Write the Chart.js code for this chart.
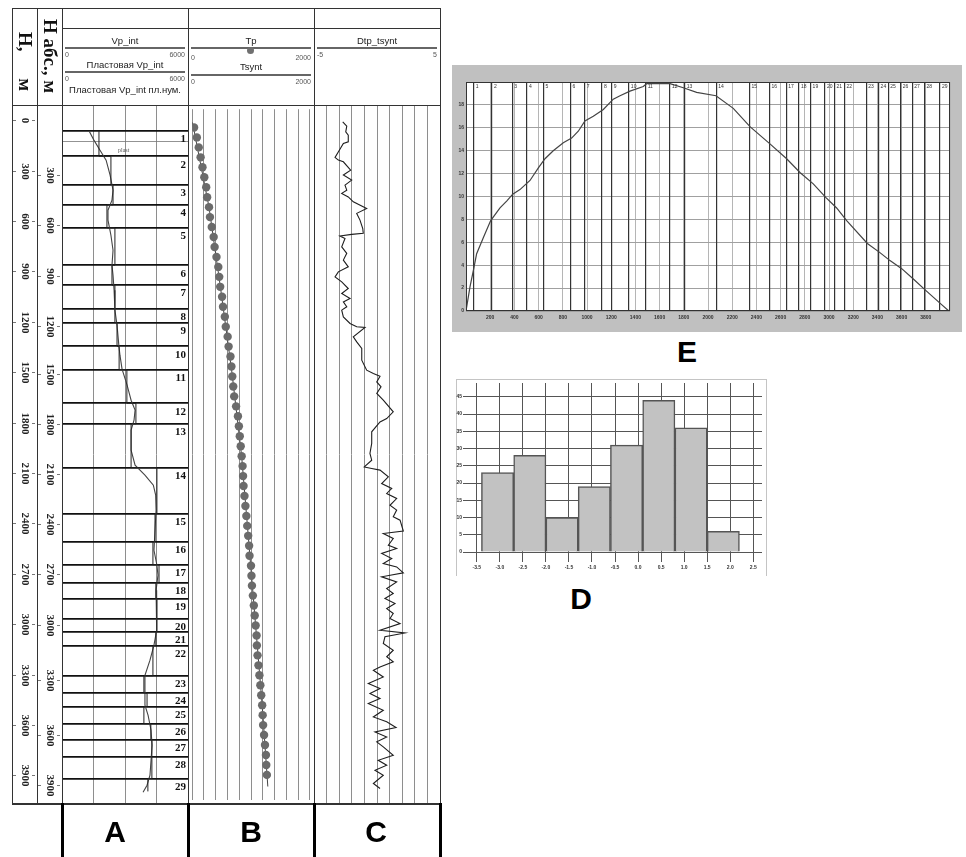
<!DOCTYPE html>
<html lang="ru">
<head>
<meta charset="utf-8">
<title>Vp_int / Tp / Dtp_tsynt</title>
<script src="https://cdn.jsdelivr.net/npm/chart.js@4.4.1/dist/chart.umd.min.js"></script>
<style>
html, body { margin: 0; padding: 0; background: #fff; }
#page { position: relative; width: 966px; height: 857px; overflow: hidden; font-family: "Liberation Sans", Arial, sans-serif; color: #222; }
canvas { position: absolute; }
.ln { position: absolute; background: #333; }
.bk { position: absolute; background: #000; width: 3px; height: 54px; top: 803px; }
.lg { position: absolute; background: #666; height: 2px; }
.t { position: absolute; white-space: nowrap; line-height: 1; }
.h { font-size: 9.5px; text-align: center; }
.n { font-size: 7px; color: #555; }
.vt { position: absolute; display: flex; align-items: center; justify-content: center; writing-mode: vertical-rl;
      font: bold 19px "Liberation Serif", "Times New Roman", serif; white-space: nowrap; color: #111; }
.big { position: absolute; font: bold 30px "Liberation Sans", Arial, sans-serif; line-height: 30px; transform: translateX(-50%); color: #000; }
</style>
</head>
<body>
<div id="page">
  <div style="position:absolute;left:452px;top:65px;width:510px;height:267px;background:#c0c0c0"></div>
  <div style="position:absolute;left:456px;top:379px;width:309px;height:196px;border:1px solid #c4c4c4;border-bottom:none"></div>

  <canvas id="depth" width="50" height="699" style="left:12px;top:105px"></canvas>
  <canvas id="trackA" width="126" height="699" style="left:62px;top:105px"></canvas>
  <canvas id="trackB" width="126" height="699" style="left:188px;top:105px"></canvas>
  <canvas id="trackC" width="126" height="699" style="left:314px;top:105px"></canvas>
  <canvas id="chartE" width="510" height="266" style="left:452px;top:65px"></canvas>
  <canvas id="chartD" width="310" height="196" style="left:456px;top:379px"></canvas>

  <!-- log frame -->
  <div class="ln" style="left:12px;top:8px;width:429px;height:1px"></div>
  <div class="ln" style="left:62px;top:28px;width:379px;height:1px"></div>
  <div class="ln" style="left:12px;top:105px;width:429px;height:1px"></div>
  <div class="ln" style="left:12px;top:803px;width:429px;height:2px"></div>
  <div class="ln" style="left:12px;top:8px;width:1px;height:796px"></div>
  <div class="ln" style="left:37px;top:8px;width:1px;height:796px"></div>
  <div class="ln" style="left:62px;top:8px;width:1px;height:796px"></div>
  <div class="ln" style="left:188px;top:8px;width:1px;height:796px"></div>
  <div class="ln" style="left:314px;top:8px;width:1px;height:796px"></div>
  <div class="ln" style="left:440px;top:8px;width:1px;height:796px"></div>
  <div class="bk" style="left:61px"></div>
  <div class="bk" style="left:187px"></div>
  <div class="bk" style="left:313px"></div>
  <div class="bk" style="left:439px"></div>

  <div class="vt" style="left:12px;width:25px;top:18px;height:87px;word-spacing:22px">Н, м</div>
  <div class="vt" style="left:37px;width:25px;top:8px;height:97px">Н абс., м</div>

  <!-- track A header -->
  <div class="t h" style="left:62px;width:126px;top:36px">Vp_int</div>
  <div class="lg" style="left:65px;top:47px;width:120px"></div>
  <div class="t n" style="left:65px;top:51px">0</div>
  <div class="t n" style="left:65px;width:120px;top:51px;text-align:right">6000</div>
  <div class="t h" style="left:62px;width:126px;top:60px">Пластовая Vp_int</div>
  <div class="lg" style="left:65px;top:71px;width:120px"></div>
  <div class="t n" style="left:65px;top:74.5px">0</div>
  <div class="t n" style="left:65px;width:120px;top:74.5px;text-align:right">6000</div>
  <div class="t h" style="left:62px;width:126px;top:85px">Пластовая Vp_int пл.нум.</div>
  <div class="t" style="left:118px;top:147px;font:6px 'Liberation Serif',serif;color:#555">plast</div>

  <!-- track B header -->
  <div class="t h" style="left:188px;width:126px;top:36px">Tp</div>
  <div class="lg" style="left:191px;top:47px;width:120px"></div>
  <div style="position:absolute;left:247px;top:47px;width:7px;height:7px;border-radius:50%;background:#707070"></div>
  <div class="t n" style="left:191px;top:53.5px">0</div>
  <div class="t n" style="left:191px;width:120px;top:53.5px;text-align:right">2000</div>
  <div class="t h" style="left:188px;width:126px;top:62px">Tsynt</div>
  <div class="lg" style="left:191px;top:74px;width:120px"></div>
  <div class="t n" style="left:191px;top:77.5px">0</div>
  <div class="t n" style="left:191px;width:120px;top:77.5px;text-align:right">2000</div>

  <!-- track C header -->
  <div class="t h" style="left:314px;width:126px;top:36px">Dtp_tsynt</div>
  <div class="lg" style="left:317px;top:47px;width:120px"></div>
  <div class="t n" style="left:317px;top:51px">-5</div>
  <div class="t n" style="left:317px;width:120px;top:51px;text-align:right">5</div>

  <div class="big" style="left:115px;top:817px">A</div>
  <div class="big" style="left:251px;top:817px">B</div>
  <div class="big" style="left:376px;top:817px">C</div>
  <div class="big" style="left:687px;top:337px">E</div>
  <div class="big" style="left:581px;top:584px">D</div>
</div>

<script>
// depth range shared by all log tracks (m)
const DEPTH_MIN = -90, DEPTH_MAX = 4070;

// depth scale labels
const hTicks = [0, 300, 600, 900, 1200, 1500, 1800, 2100, 2400, 2700, 3000, 3300, 3600, 3900];
const absTickDepth = [327, 625, 929, 1226, 1512, 1810, 2107, 2405, 2702, 3006, 3333, 3661, 3958];
const absLabels = ['300', '600', '900', '1200', '1500', '1800', '2100', '2400', '2700', '3000', '3300', '3600', '3900'];

// layers (tops, m)
const layerTops = [65, 215, 383, 504, 641, 864, 982, 1123, 1205, 1346, 1485, 1685, 1807, 2068, 2343,
  2509, 2646, 2752, 2848, 2966, 3046, 3128, 3307, 3410, 3490, 3592, 3688, 3790, 3918];
const layerNames = ['1', '2', '3', '4', '5', '6', '7', '8', '9', '10', '11', '12', '13', '14', '15',
  '16', '17', '18', '19', '20', '21', '22', '23', '24', '25', '26', '27', '28', '29'];
const plastMarks = [129];

// track A: Vp_int and layer Vp
const plastVp = [1760, 2330, 2430, 2140, 2520, 2380, 2520, 2520, 2620, 2720, 3090, 3520, 3290, 4520, 4430,
  4330, 4620, 4470, 4520, 4520, 4470, 4330, 3900, 4050, 3900, 4230, 4280, 4280, 4090];
const plastBottom = 3995;
const vpDepth = [65, 119, 179, 238, 327, 417, 476, 536, 595, 685, 774, 863, 923, 1012, 1131, 1220, 1345, 1399,
  1482, 1577, 1667, 1726, 1786, 1845, 1964, 2054, 2113, 2173, 2232, 2321, 2440, 2560, 2649, 2708, 2798, 2857,
  2946, 3036, 3125, 3214, 3304, 3393, 3482, 3542, 3631, 3720, 3810, 3899, 3958, 4000];
const vpVal = [1290, 1520, 1810, 2100, 2290, 2430, 2380, 2190, 2190, 2330, 2430, 2380, 2430, 2480, 2520, 2620,
  2710, 2760, 2860, 3100, 3290, 3480, 3430, 3290, 3290, 3480, 3950, 4350, 4460, 4480, 4430, 4380, 4520, 4570,
  4480, 4520, 4520, 4480, 4380, 4190, 3950, 3950, 3950, 4100, 4240, 4290, 4240, 4190, 4050, 3860];

// track B: Tp points and Tsynt line
const tpDepth = [20, 80, 140, 200, 260, 320, 380, 440, 500, 560, 620, 680, 740, 800, 860, 920, 980, 1040, 1100,
  1160, 1220, 1280, 1340, 1400, 1460, 1520, 1580, 1640, 1700, 1760, 1820, 1880, 1940, 2000, 2060, 2120, 2180,
  2240, 2300, 2360, 2420, 2480, 2540, 2600, 2660, 2720, 2780, 2840, 2900, 2960, 3020, 3080, 3140, 3200, 3260,
  3320, 3380, 3440, 3500, 3560, 3620, 3680, 3740, 3800, 3860, 3920];
const tpVal = [32, 79, 111, 143, 175, 206, 238, 254, 286, 302, 333, 365, 381, 413, 444, 460, 476, 508, 524, 555,
  571, 603, 619, 651, 667, 682, 698, 714, 746, 778, 794, 809, 825, 841, 857, 865, 873, 889, 905, 921,
  936, 952, 968, 975, 1000, 1008, 1016, 1032, 1048, 1063, 1079, 1095, 1100, 1111, 1127, 1143, 1159, 1174, 1190, 1198,
  1206, 1222, 1238, 1254, 1260, 1270];
const tsyntDepth = [-10, 500, 1000, 1500, 2000, 2500, 3000, 3500, 3990];
const tsyntVal = [5, 286, 487, 677, 841, 958, 1074, 1190, 1286];

// track C: Dtp_tsynt
const dtpDepth = [10, 36, 70, 89, 129, 139, 179, 222, 238, 248, 298, 327, 357, 387, 417, 436, 457, 486, 526, 555,
  595, 645, 674, 680, 690, 704, 754, 793, 833, 873, 903, 933, 963, 1002, 1032, 1061, 1082, 1111, 1131, 1171,
  1210, 1230, 1234, 1290, 1320, 1359, 1429, 1488, 1508, 1524, 1558, 1587, 1627, 1667, 1736, 1776, 1796, 1855,
  1924, 1984, 2024, 2064, 2073, 2083, 2123, 2163, 2192, 2222, 2252, 2292, 2321, 2361, 2381, 2446, 2460, 2490,
  2530, 2549, 2579, 2609, 2639, 2659, 2694, 2718, 2748, 2788, 2817, 2847, 2877, 2907, 2936, 2966, 2996, 3036,
  3052, 3075, 3115, 3155, 3194, 3224, 3254, 3274, 3314, 3353, 3383, 3413, 3442, 3472, 3512, 3552, 3581, 3615,
  3641, 3671, 3700, 3730, 3780, 3810, 3839, 3869, 3899, 3948, 3978];
const dtpVal = [-2.72, -2.40, -2.48, -2.28, -2.28, -2.67, -2.99, -3.33, -3.07, -2.67, -2.09, -2.67, -2.01, -2.54,
  -2.40, -2.80, -2.28, -1.88, -0.82, -1.61, -1.35, -1.13, -1.09, -2.01, -2.94, -2.54, -2.80, -2.40, -2.67, -2.28,
  -3.07, -3.33, -2.80, -2.28, -2.80, -2.14, -2.67, -2.40, -2.80, -2.67, -2.14, -1.61, -0.95, -1.88, -1.61, -1.21,
  -1.21, -0.82, -0.29, 0.24, -0.02, 0.32, -0.02, 0.50, 1.29, 0.77, 0.24, -0.42, -0.42, -0.56, -0.42, -1.01, -0.42,
  0.24, 0.90, 0.37, 1.17, 0.77, 1.56, 1.03, 1.56, 1.29, 1.83, 2.09, 0.50, 1.29, 0.90, 1.56, 0.37, 1.17, 0.50, 1.56,
  2.09, 0.37, 1.56, 0.77, 1.29, 0.63, 1.43, 0.77, 1.29, 1.03, 1.83, 0.24, 2.22, 0.63, 0.50, 1.29, 0.77, 1.29, 0.24,
  -0.29, 0.50, -0.69, 0.24, -0.56, 0.24, -0.69, 0.50, -0.29, 0.77, 1.51, -0.16, 0.77, -0.02, 0.50, 1.29, 0.10,
  0.77, -0.16, 0.50, -0.29, 0.24];

// chart E
const eDepth = [0, 33, 66, 88, 143, 204, 281, 336, 386, 446, 529, 598, 653, 721, 804, 873, 928, 983, 1052, 1135,
  1217, 1273, 1355, 1465, 1493, 1686, 1796, 1906, 2066, 2209, 2347, 2512, 2650, 2760, 2870, 2975, 3063, 3146,
  3317, 3421, 3504, 3601, 3697, 3799, 3926, 3986];
const eVal = [0, 2.1, 3.8, 5.0, 6.4, 7.9, 9.0, 9.6, 10.2, 10.6, 11.4, 12.5, 13.3, 14.0, 14.7, 15.1, 15.7, 16.6,
  17.0, 17.6, 18.5, 18.8, 19.2, 19.6, 19.85, 19.85, 19.5, 19.1, 18.8, 17.7, 16.1, 14.6, 13.3, 12.1, 11.1, 9.9,
  9.0, 7.9, 5.9, 5.1, 4.4, 3.7, 2.8, 1.8, 0.6, 0.05];
const eXTicks = [0, 200, 400, 600, 800, 1000, 1200, 1400, 1600, 1800, 2000, 2200, 2400, 2600, 2800, 3000, 3200,
  3400, 3600, 3800, 4000];
const eXLabels = ['', '200', '400', '600', '800', '1000', '1200', '1400', '1600', '1800', '2000', '2200', '2400',
  '2600', '2800', '3000', '3200', '3400', '3600', '3800', ''];
const eYTicks = [0, 2, 4, 6, 8, 10, 12, 14, 16, 18, 20];
const eYLabels = ['0', '2', '4', '6', '8', '10', '12', '14', '16', '18', ''];

// chart D (histogram)
const dBinCenters = [-3.05, -2.35, -1.65, -0.95, -0.25, 0.45, 1.15, 1.85];
const dCounts = [23, 28, 10, 19, 31, 44, 36, 6];
const dXTicks = [-3.5, -3.0, -2.5, -2.0, -1.5, -1.0, -0.5, 0.0, 0.5, 1.0, 1.5, 2.0, 2.5];
const dXLabels = ['-3.5', '-3.0', '-2.5', '-2.0', '-1.5', '-1.0', '-0.5', '0.0', '0.5', '1.0', '1.5', '2.0', '2.5'];
const dYTicks = [0, 5, 10, 15, 20, 25, 30, 35, 40, 45];
const dYLabels = ['0', '5', '10', '15', '20', '25', '30', '35', '40', '45'];

const tickSet = (arr) => (s) => { s.ticks = arr.map(v => ({value: v})); };
const pairs = (ys, xs) => ys.map((y, i) => ({x: xs[i], y: y}));
const tiny = {size: 5, family: '"Liberation Sans", Arial, sans-serif', weight: 'bold'};

const base = {
    responsive: false,
    animation: false,
    devicePixelRatio: 1,
    events: [],
    layout: {padding: 0},
    plugins: {legend: {display: false}, tooltip: {enabled: false}},
    elements: {point: {radius: 0}, line: {borderWidth: 1}}
};

const depthY = (extra) => Object.assign({
    type: 'linear', reverse: true, min: DEPTH_MIN, max: DEPTH_MAX, display: false
}, extra || {});

const trackX = (min, max, grid) => ({
    type: 'linear', min: min, max: max,
    afterBuildTicks: tickSet(grid),
    ticks: {display: false},
    grid: {color: '#8e8e8e', lineWidth: 1, drawTicks: false},
    border: {display: false}
});

// rotated depth labels with the little dashes
const depthAxisPlugin = {
    id: 'depthAxis',
    afterDraw(chart) {
        const {ctx} = chart;
        const y = chart.scales.y;
        ctx.save();
        ctx.font = 'bold 11px "Liberation Serif", serif';
        ctx.fillStyle = '#222';
        ctx.strokeStyle = '#777';
        ctx.lineWidth = 1;
        const column = (vals, labels, x0) => {
            vals.forEach((v, i) => {
                const py = Math.round(y.getPixelForValue(v)) + 0.5;
                ctx.beginPath();
                ctx.moveTo(x0 + 1, py); ctx.lineTo(x0 + 4, py);
                ctx.moveTo(x0 + 20, py); ctx.lineTo(x0 + 23, py);
                ctx.stroke();
                ctx.save();
                ctx.translate(x0 + 12.5, py);
                ctx.rotate(Math.PI / 2);
                ctx.textAlign = 'center';
                ctx.textBaseline = 'middle';
                ctx.fillText(labels[i], 0, 0);
                ctx.restore();
            });
        };
        column(hTicks, hTicks.map(String), 0);
        column(absTickDepth, absLabels, 25);
        ctx.restore();
    }
};

const layerLabelPlugin = {
    id: 'layerLabels',
    afterDraw(chart) {
        const {ctx, chartArea} = chart;
        const y = chart.scales.y;
        ctx.save();
        ctx.font = 'bold 11px "Liberation Serif", serif';
        ctx.fillStyle = '#111';
        ctx.textAlign = 'right';
        ctx.textBaseline = 'top';
        layerTops.forEach((d, i) => ctx.fillText(layerNames[i], chartArea.right - 2, y.getPixelForValue(d) + 3));
        ctx.restore();
    }
};

new Chart(document.getElementById('depth'), {
    type: 'line',
    data: {datasets: []},
    options: Object.assign({}, base, {
        scales: {x: {type: 'linear', display: false, min: 0, max: 1}, y: depthY()}
    }),
    plugins: [depthAxisPlugin]
});

// track A
const plastPoints = pairs(layerTops, plastVp).concat([{x: plastVp[plastVp.length - 1], y: plastBottom}]);
new Chart(document.getElementById('trackA'), {
    type: 'line',
    data: {
        datasets: [
            {label: 'Пластовая Vp_int', data: plastPoints, borderColor: '#222', stepped: 'after'},
            {label: 'Vp_int', data: pairs(vpDepth, vpVal), borderColor: '#444', borderWidth: 1.1}
        ]
    },
    options: Object.assign({}, base, {
        scales: {
            x: trackX(0, 6000, [0, 1500, 3000, 4500, 6000]),
            y: depthY({
                display: true,
                position: 'right',
                afterBuildTicks: tickSet(layerTops.concat(plastMarks)),
                ticks: {display: false, autoSkip: false},
                grid: {
                    color: (c) => (c.tick && plastMarks.includes(c.tick.value)) ? '#777' : '#111',
                    lineWidth: (c) => (c.tick && plastMarks.includes(c.tick.value)) ? 0.8 : 1.8,
                    drawTicks: false
                },
                border: {display: false}
            })
        }
    }),
    plugins: [layerLabelPlugin]
});

// track B
new Chart(document.getElementById('trackB'), {
    type: 'line',
    data: {
        datasets: [
            {label: 'Tp', data: pairs(tpDepth, tpVal), showLine: false, pointRadius: 4.2,
             pointBackgroundColor: '#6b6b6b', pointBorderWidth: 0},
            {label: 'Tsynt', data: pairs(tsyntDepth, tsyntVal), borderColor: '#444'}
        ]
    },
    options: Object.assign({}, base, {
        scales: {
            x: trackX(0, 2000, [0, 200, 400, 600, 800, 1000, 1200, 1400, 1600, 1800, 2000]),
            y: depthY()
        }
    })
});

// track C
new Chart(document.getElementById('trackC'), {
    type: 'line',
    data: {
        datasets: [{label: 'Dtp_tsynt', data: pairs(dtpDepth, dtpVal), borderColor: '#1e1e1e', borderWidth: 1.1}]
    },
    options: Object.assign({}, base, {
        scales: {
            x: trackX(-5, 5, [-5, -4, -3, -2, -1, 0, 1, 2, 3, 4, 5]),
            y: depthY()
        }
    })
});

// chart E
const ePanelPlugin = {
    id: 'ePanel',
    beforeDraw(chart) {
        const {ctx, chartArea: a} = chart;
        ctx.save();
        ctx.fillStyle = '#fff';
        ctx.fillRect(a.left, a.top, a.width, a.height);
        ctx.restore();
    },
    afterDraw(chart) {
        const {ctx, chartArea: a} = chart;
        const xl = chart.scales.xl;
        ctx.save();
        ctx.strokeStyle = '#333';
        ctx.lineWidth = 1;
        ctx.strokeRect(Math.round(a.left) + 0.5, Math.round(a.top) + 0.5, Math.round(a.width) - 1, Math.round(a.height) - 1);
        ctx.font = '5px "Liberation Sans", Arial, sans-serif';
        ctx.fillStyle = '#333';
        ctx.textAlign = 'left';
        ctx.textBaseline = 'top';
        layerTops.forEach((d, i) => ctx.fillText(layerNames[i], xl.getPixelForValue(d) + 2, a.top + 2));
        ctx.restore();
    }
};

new Chart(document.getElementById('chartE'), {
    type: 'line',
    data: {
        datasets: [{label: 'E', data: pairs(eVal, eDepth), borderColor: '#444', borderWidth: 1.2}]
    },
    options: Object.assign({}, base, {
        layout: {padding: {left: 0, top: 17, right: 12, bottom: 0}},
        scales: {
            x: {
                type: 'linear', min: 0, max: 4000,
                afterBuildTicks: tickSet(eXTicks),
                afterFit: (s) => { s.height = 20; },
                ticks: {autoSkip: false, maxRotation: 0, padding: 4, font: tiny, color: '#333',
                        callback: (v, i) => eXLabels[i]},
                grid: {color: '#b5b5b5', drawTicks: false},
                border: {display: false}
            },
            y: {
                type: 'linear', min: 0, max: 20,
                afterBuildTicks: tickSet(eYTicks),
                afterFit: (s) => { s.width = 14; },
                ticks: {autoSkip: false, padding: 2, font: tiny, color: '#333',
                        callback: (v, i) => eYLabels[i]},
                grid: {color: '#a0a0a0', drawTicks: false},
                border: {display: false}
            },
            xl: {
                type: 'linear', position: 'top', min: 0, max: 4000,
                afterBuildTicks: tickSet(layerTops),
                ticks: {display: false, autoSkip: false},
                grid: {color: '#333', lineWidth: 1.2, drawTicks: false},
                border: {display: false}
            }
        }
    }),
    plugins: [ePanelPlugin]
});

// chart D
new Chart(document.getElementById('chartD'), {
    type: 'bar',
    data: {
        datasets: [{
            label: 'D',
            data: pairs(dCounts, dBinCenters),
            backgroundColor: '#c2c2c2',
            borderColor: '#555',
            borderWidth: 1.5,
            barPercentage: 1,
            categoryPercentage: 1
        }]
    },
    options: Object.assign({}, base, {
        layout: {padding: {left: 0, top: 0, right: 4, bottom: 0}},
        scales: {
            x: {
                type: 'linear', display: false, min: -3.8, max: 2.69, offset: false, grid: {offset: false},
                afterBuildTicks: (s) => { s.ticks = [{value: s.min}, {value: s.max}]; }
            },
            xg: {
                type: 'linear', position: 'bottom', min: -3.8, max: 2.69, offset: false,
                afterBuildTicks: tickSet(dXTicks),
                afterFit: (s) => { s.height = 23; },
                ticks: {autoSkip: false, maxRotation: 0, padding: 3, font: tiny, color: '#333',
                        callback: (v, i) => dXLabels[i]},
                grid: {color: '#555', offset: false, tickLength: 10, tickColor: '#555'},
                border: {display: false}
            },
            y: {
                type: 'linear', min: 0, max: 49,
                afterBuildTicks: tickSet(dYTicks),
                afterFit: (s) => { s.width = 7; },
                ticks: {autoSkip: false, padding: 1, font: tiny, color: '#333',
                        callback: (v, i) => dYLabels[i]},
                grid: {color: '#555', drawTicks: false},
                border: {display: false}
            }
        }
    })
});
</script>
</body>
</html>
